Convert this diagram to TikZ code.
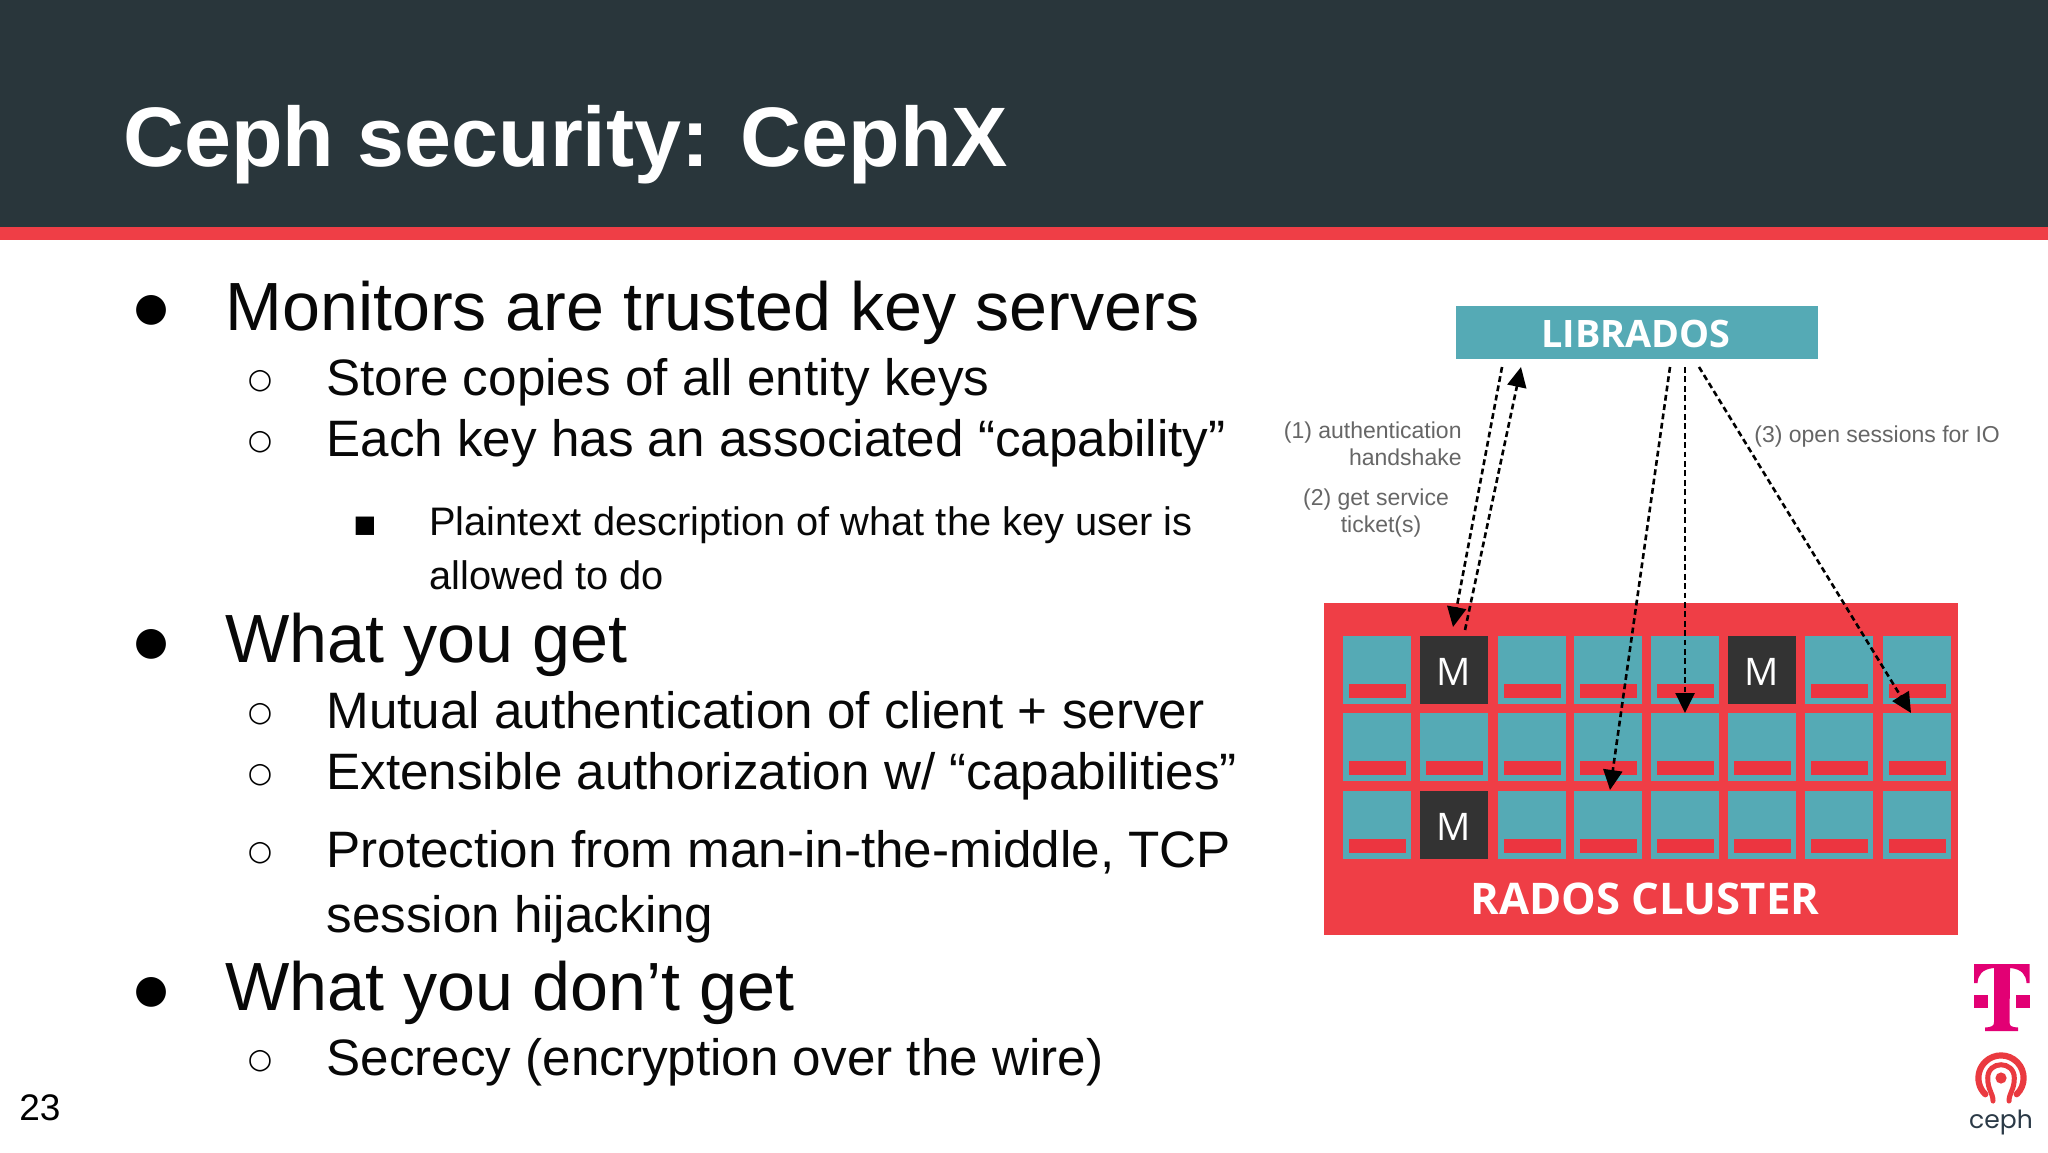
\documentclass[tikz,border=0pt]{standalone}
\usepackage{fontspec}
\setmainfont{Liberation Sans}
\newfontfamily\dejavu{DejaVu Sans}
\newfontfamily\opensans{Open Sans}
\newfontfamily\poppins{Poppins}
\usetikzlibrary{arrows.meta,calc}
\definecolor{hdr}{HTML}{29363B}
\definecolor{accent}{HTML}{EF3E46}
\definecolor{teal}{HTML}{55AAB5}
\definecolor{barred}{HTML}{EC3540}
\definecolor{mon}{HTML}{333333}
\definecolor{gtxt}{HTML}{666666}
\definecolor{tmag}{HTML}{E20074}
\definecolor{cephred}{HTML}{EA3A40}
\definecolor{cephtxt}{HTML}{2B3A47}
\tikzset{
  lone/.style={anchor=base west,inner sep=0pt,font=\fontsize{34.1}{38}\selectfont,text=black!97},
  ltwo/.style={anchor=base west,inner sep=0pt,font=\fontsize{25.6}{30}\selectfont,text=black!97},
  lthree/.style={anchor=base west,inner sep=0pt,font=\fontsize{19.9}{24}\selectfont,text=black!97},
  bone/.style={anchor=base,inner sep=0pt,font=\dejavu\fontsize{19.5}{24}\selectfont},
  btwo/.style={anchor=base,inner sep=0pt,font=\dejavu\fontsize{14}{18}\selectfont},
  bthree/.style={anchor=base,inner sep=0pt,font=\dejavu\fontsize{12}{16}\selectfont},
  cell/.style={anchor=north west,inner sep=0pt,fill=teal,minimum width=33.7pt,minimum height=33.7pt},
  moncell/.style={cell,fill=mon,text=white,font=\opensans\fontsize{19}{22}\selectfont},
  bar/.style={anchor=south,inner sep=0pt,fill=barred,minimum width=28.5pt,minimum height=7pt},
  glabel/.style={inner sep=0pt,text=gtxt,font=\fontsize{11.5}{13.5}\selectfont},
  flow/.style={dash pattern=on 2.9pt off 1.8pt,line width=1.3pt,black,-{Triangle[length=10pt,width=9.5pt]}},
}
\newcommand{\tealcell}[2]{%
  \node[cell] (c-#1-#2) at (#1,#2) {};
  \node[bar] (b-#1-#2) at ([yshift=3pt]c-#1-#2.south) {};}
\begin{document}
\begin{tikzpicture}[x=0.5pt,y=-0.5pt]
\useasboundingbox (0,0) rectangle (2048,1152);
\fill[white] (0,0) rectangle (2048,1152);
\fill[hdr] (0,0) rectangle (2048,228);
\fill[accent] (0,227) rectangle (2048,240);
\node[anchor=base west,inner sep=0pt,text=white,font=\bfseries\fontsize{42.2}{50}\selectfont] (title) at (123,166) {Ceph security: CephX};

% body
\node[bone] (b1) at (152,320) {●};
\node[lone] (t1) at (225,330) {Monitors are trusted key servers};
\node[btwo] (b2) at (260,388) {○};
\node[ltwo] (t2) at (326,395) {Store copies of all entity keys};
\node[btwo] (b3) at (260,449) {○};
\node[ltwo] (t3) at (326,456) {Each key has an associated “capability”};
\node[bthree] (b4) at (365,532) {■};
\node[lthree] (t4) at (429,535) {Plaintext description of what the key user is};
\node[lthree] (t5) at (429,589) {allowed to do};
\node[bone] (b5) at (152,654) {●};
\node[lone] (t6) at (225,662) {What you get};
\node[btwo] (b6) at (260,721) {○};
\node[ltwo] (t7) at (326,728) {Mutual authentication of client + server};
\node[btwo] (b7) at (260,782) {○};
\node[ltwo] (t8) at (326,789) {Extensible authorization w/ “capabilities”};
\node[btwo] (b8) at (260,860) {○};
\node[ltwo] (t9) at (326,867) {Protection from man-in-the-middle, TCP};
\node[ltwo] (t10) at (326,932) {session hijacking};
\node[bone] (b9) at (152,1002) {●};
\node[lone] (t11) at (225,1010) {What you don’t get};
\node[btwo] (b10) at (260,1068) {○};
\node[ltwo] (t12) at (326,1075) {Secrecy (encryption over the wire)};
\node[anchor=base west,inner sep=0pt,font=\fontsize{18.5}{22}\selectfont] (num) at (19,1120) {23};

% diagram
\node[anchor=north west,inner sep=0pt,fill=teal,minimum width=181pt,minimum height=26.5pt] (lib) at (1456,306) {};
\node[inner sep=0pt,text=white,font=\opensans\bfseries\fontsize{18.9}{22}\selectfont] at (1636,334) {LIBRADOS};
\node[anchor=north west,inner sep=0pt,fill=accent,minimum width=317pt,minimum height=166pt] (cluster) at (1324,603) {};
\node[inner sep=0pt,text=white,font=\opensans\bfseries\fontsize{21.8}{25}\selectfont] at (1645,899) {RADOS CLUSTER};

\foreach \x in {1343,1498,1574,1651,1805,1883}{\tealcell{\x}{636}}
\foreach \x in {1343,1420,1498,1574,1651,1728,1805,1883}{\tealcell{\x}{713}}
\foreach \x in {1343,1498,1574,1651,1728,1805,1883}{\tealcell{\x}{791}}
\node[moncell] (m1) at (1420,636) {\raisebox{0pt}[15.5pt][0pt]{M}};
\node[moncell] (m2) at (1728,636) {\raisebox{0pt}[15.5pt][0pt]{M}};
\node[moncell] (m3) at (1420,791) {\raisebox{0pt}[15.5pt][0pt]{M}};

\coordinate (a1s) at (1502,367); \coordinate (a1e) at (1453,627);
\coordinate (a2s) at (1465,630); \coordinate (a2e) at (1521,367);
\coordinate (a3s) at (1670,367); \coordinate (a3e) at (1610,790);
\coordinate (a4s) at (1685,367); \coordinate (a4e) at (1685,713);
\coordinate (a5s) at (1699,367); \coordinate (a5e) at (1911,713);
\draw[flow] (a1s) -- (a1e);
\draw[flow] (a2s) -- (a2e);
\draw[flow] (a3s) -- (a3e);
\draw[flow] (a4s) -- (a4e);
\draw[flow] (a5s) -- (a5e);

\node[glabel,align=right,anchor=east] (l1) at (1462,444) {(1) authentication\\handshake};
\node[glabel,align=center] (l2) at (1376,513) {(2) get service\\\hspace*{5pt}ticket(s)};
\node[glabel,anchor=west] (l3) at (1754,437) {(3) open sessions for IO};

% T logo
\fill[tmag] (1974,964) -- (2029.5,964) -- (2029.5,983) -- (2026.5,983)
  .. controls (2026,975) and (2022,969) .. (2010,968)
  -- (2009.5,1022) .. controls (2009.5,1026) and (2011,1027) .. (2018,1027.5)
  -- (2018,1031) -- (1985,1031) -- (1985,1027.5)
  .. controls (1992,1027) and (1994,1026) .. (1994,1022)
  -- (1994,968) .. controls (1982,969) and (1978,975) .. (1977.5,983)
  -- (1974,983) -- cycle;
\fill[tmag] (1974,995) rectangle (1987.5,1008);
\fill[tmag] (2016,995) rectangle (2029.5,1008);

% ceph logo
\fill[cephred] (2001,1078) circle[radius=2.8pt];
\draw[cephred,line width=3.1pt,line cap=round] (2001,1078) ++(-46:11.3pt) arc[start angle=-46,end angle=226,radius=11.3pt];
\draw[cephred,line width=2.5pt,line cap=round] (1993,1101) .. controls (1993,1093) and (1987.7,1090) .. (1987.7,1078)
  .. controls (1987.7,1060.3) and (2014.3,1060.3) .. (2014.3,1078)
  .. controls (2014.3,1090) and (2009,1093) .. (2009,1101);
\node[inner sep=0pt,text=cephtxt,font=\poppins\fontsize{12.5}{15}\selectfont] (cephword) at (2001,1122) {ceph};
\end{tikzpicture}
\end{document}
